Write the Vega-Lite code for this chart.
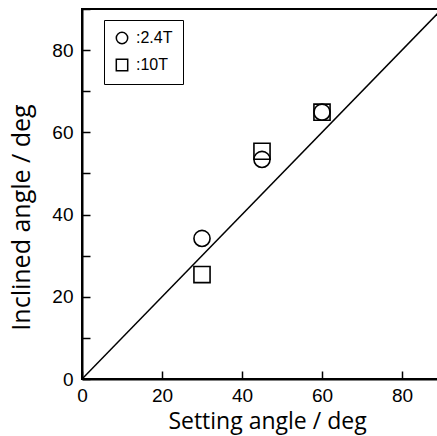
{
  "$schema": "https://vega.github.io/schema/vega-lite/v6.json",
  "autosize": "none",
  "padding": {"left": 82, "top": 9, "right": 0, "bottom": 57},
  "width": 360,
  "height": 370,
  "background": "white",
  "config": {
    "view": {"stroke": "black", "strokeWidth": 2},
    "axis": {
      "domainColor": "black",
      "domainWidth": 2,
      "tickColor": "black",
      "tickWidth": 1.5,
      "tickSize": -8,
      "grid": false,
      "labelFont": "Liberation Sans",
      "labelFontSize": 19,
      "labelColor": "black",
      "titleFont": "Open Sans",
      "titleFontSize": 23,
      "titleFontWeight": "normal",
      "titleColor": "black"
    }
  },
  "layer": [
    {
      "data": {"values": [{"sx": 0, "sy": 0}, {"sx": 90, "sy": 90}]},
      "mark": {"type": "line", "color": "black", "strokeWidth": 1.5, "clip": true},
      "encoding": {
        "x": {"field": "sx", "type": "quantitative", "scale": {"domain": [0, 90], "nice": false},
          "axis": {"values": [0, 10, 20, 30, 40, 50, 60, 70, 80, 90], "labelExpr": "datum.value % 20 == 0 ? datum.label : ''", "title": "Setting angle / deg", "labelPadding": 15, "labelFlush": false,
            "titleX": 185, "titleY": 49, "titleBaseline": "alphabetic", "titleAlign": "center", "titleAnchor": null}},
        "y": {"field": "sy", "type": "quantitative", "scale": {"domain": [0, 90], "nice": false},
          "axis": {"values": [0, 10, 20, 30, 40, 50, 60, 70, 80, 90], "labelExpr": "datum.value % 20 == 0 ? datum.label : ''", "title": "Inclined angle / deg", "labelPadding": 17, "labelFlush": false,
            "titleX": -53, "titleY": 208, "titleBaseline": "alphabetic", "titleAlign": "center", "titleAngle": -90, "titleFontSize": 25}}
      }
    },
    {
      "data": {"values": [
        {"setting": 30, "inclined": 34.2, "series": "2.4T"},
        {"setting": 45, "inclined": 53.4, "series": "2.4T"},
        {"setting": 60, "inclined": 64.9, "series": "2.4T"},
        {"setting": 30, "inclined": 25.4, "series": "10T"},
        {"setting": 45, "inclined": 55.4, "series": "10T"},
        {"setting": 60, "inclined": 64.9, "series": "10T"}
      ]},
      "mark": {"type": "point", "filled": false, "color": "black", "strokeWidth": 1.6, "size": 260, "opacity": 1},
      "encoding": {
        "x": {"field": "setting", "type": "quantitative"},
        "y": {"field": "inclined", "type": "quantitative"},
        "shape": {"field": "series", "type": "nominal",
          "scale": {"domain": ["2.4T", "10T"], "range": ["circle", "square"]},
          "legend": {
            "orient": "none", "legendX": 22, "legendY": 11,
            "title": null,
            "labelExpr": "':' + datum.label + '     '",
            "labelFont": "Liberation Sans", "labelFontSize": 16, "labelColor": "black",
            "symbolSize": 130, "symbolStrokeColor": "black", "symbolStrokeWidth": 1.5, "symbolFillColor": "transparent",
            "strokeColor": "black", "fillColor": "white",
            "padding": 10, "rowPadding": 9, "labelOffset": 6
          }
        }
      }
    }
  ]
}
